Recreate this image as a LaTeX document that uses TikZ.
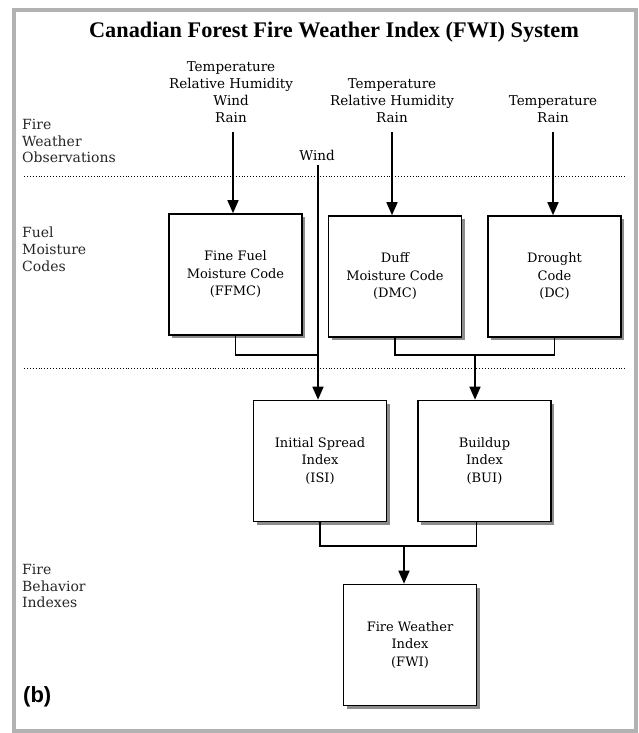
\documentclass[tikz,border=0pt]{standalone}
\usepackage{fontspec}
\setmainfont{DejaVu Serif}
\newfontfamily\headfont{Liberation Serif}
\newfontfamily\tagfont{Liberation Sans}
\usetikzlibrary{arrows.meta,shadows}

\begin{document}
\begin{tikzpicture}[
  x=1pt,y=-1pt,
  codebox/.style={draw,line width=1.6pt,fill=white,minimum width=133pt,minimum height=121pt,
    align=center,font=\fontsize{13}{17.5}\selectfont,
    drop shadow={opacity=1,fill=black!45,shadow xshift=3pt,shadow yshift=-3pt}},
  obs/.style={align=center,inner sep=0pt,font=\fontsize{13.5}{17}\selectfont},
  level/.style={anchor=west,align=left,inner sep=0pt,text=black!85,font=\fontsize{14}{16.8}\selectfont},
  link/.style={line width=1.6pt},
  feed/.style={link,-{Triangle[length=13pt,width=11pt]}},
  divider/.style={dotted,line width=.9pt}
]
  \useasboundingbox (0,0) rectangle (639,733);

  % Frame and title
  \draw[gray!60,line width=3.5pt] (14,10) rectangle (636,731);
  \node (title) at (334,32) {\headfont\bfseries\fontsize{22.3}{24}\selectfont Canadian Forest Fire Weather Index (FWI) System};

  % Levels
  \node[level] (weatherlevel) at (22,141) {Fire\\Weather\\Observations};
  \node[level] (fuellevel) at (22,249) {Fuel\\Moisture\\Codes};
  \node[level] (behaviorlevel) at (22,586) {Fire\\Behavior\\Indexes};
  \node[anchor=west,inner sep=0pt] (tag) at (23,697) {\tagfont\bfseries\fontsize{22}{24}\selectfont (b)};

  % Dividers
  \draw[divider] (24,176) -- (625,176);
  \draw[divider] (24,368) -- (625,368);

  % Observations
  \node[obs] (obs1) at (231,92.5) {Temperature\\Relative Humidity\\Wind\\Rain};
  \node[obs] (obs2) at (392,101) {Temperature\\Relative Humidity\\Rain};
  \node[obs] (obs3) at (553,109.5) {Temperature\\Rain};
  \node[obs] (wind) at (317,155) {Wind};

  % Codes and indexes
  \node[codebox] (ffmc) at (235.5,274.5) {Fine Fuel\\Moisture Code\\(FFMC)};
  \node[codebox] (dmc) at (395,276.5) {Duff\\Moisture Code\\(DMC)};
  \node[codebox] (dc) at (554.5,276.5) {Drought\\Code\\(DC)};
  \node[codebox] (isi) at (320,461) {Initial Spread\\Index\\(ISI)};
  \node[codebox] (bui) at (484.5,461) {Buildup\\Index\\(BUI)};
  \node[codebox] (fwi) at (410,645) {Fire Weather\\Index\\(FWI)};

  \coordinate (windjoin) at (318,355);
  \coordinate (codejoin) at (475,355);
  \coordinate (indexjoin) at (404,546);

  % Connectors
  \draw[feed] ([xshift=2pt,yshift=-9pt]obs1.south) -- ([xshift=2pt]obs1.south |- ffmc.north);
  \draw[feed] ([yshift=-9pt]obs2.south) -- (obs2.south |- dmc.north);
  \draw[feed] ([yshift=-9pt]obs3.south) -- (obs3.south |- dc.north);
  \draw[feed] ([xshift=1pt,yshift=-5pt]wind.south) -- (windjoin) -- (windjoin |- isi.north);
  \draw[link] (ffmc.south) |- (windjoin);
  \draw[link] (dmc.south) |- (codejoin) -| (dc.south);
  \draw[feed] (codejoin) -- (codejoin |- bui.north);
  \draw[link] (isi.south) |- (indexjoin) -| ([xshift=-8pt]bui.south);
  \draw[feed] (indexjoin) -- (indexjoin |- fwi.north);
\end{tikzpicture}
\end{document}
